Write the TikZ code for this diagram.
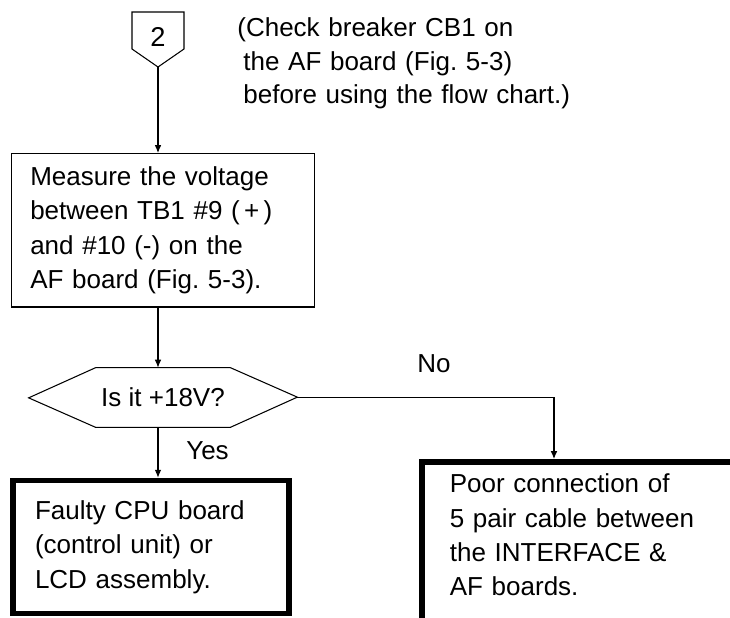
\documentclass[tikz,border=0pt]{standalone}
\usepackage{fontspec}
\setmainfont{Liberation Sans}
\usetikzlibrary{arrows.meta}
\frenchspacing

\begin{document}
\begin{tikzpicture}[
    line/.style={line width=0.6pt},
    arr/.style={line width=0.6pt, -{Latex[length=4.5pt,width=3.8pt]}},
    txt/.style={font=\fontsize{14.8}{19.6}\selectfont, inner sep=0pt},
    box/.style={draw, line width=0.6pt, align=left, font=\fontsize{14.8}{19.6}\selectfont},
    endbox/.style={box, line width=3.2pt}
]
            \useasboundingbox (0,0) rectangle (14.6,12.34);
            % Ô đầu nối số 2
            \coordinate (P1) at (2.64,11.36);
            \coordinate (P2) at (2.64,12.1);
            \coordinate (P3) at (3.68,12.1);
            \coordinate (P4) at (3.68,11.36);
            \coordinate (T) at (3.16,11.0);
            \draw[line] (P1) -- (P2) -- (P3) -- (P4) -- (T) -- cycle;
            \node[txt, font=\fontsize{15.5}{19.6}\selectfont] (two) at (3.16,11.6) {2};
            % Ghi chú
            \node[txt, anchor=west, text width=7cm, align=left, font=\fontsize{14.8}{19}\selectfont] (memo) at (4.74,11.07)
                {(Check breaker CB1 on\\ \hspace*{0.12cm}the AF board (Fig. 5-3)\\ \hspace*{0.12cm}before using the flow chart.)};
            % Hộp đo điện áp
            \node[box, minimum width=6.05cm, minimum height=3.07cm, inner xsep=0.37cm, text width=5.31cm] (M) at (3.26,7.735)
                {Measure the voltage\\ between TB1 \#9 (\,+\,)\\ and \#10 (-) on the\\ AF board (Fig. 5-3).};
            % Hộp quyết định
            \node[txt, minimum width=2.68cm, minimum height=1.18cm] (Q) at (3.26,4.39) {Is it +18V?};
            \draw[line] (Q.north west) -- (Q.north east) -- ++(1.34,-0.59) coordinate (QR)
                -- (Q.south east) -- (Q.south west) -- ++(-1.34,0.59) -- cycle;
            % Hai kết luận
            \node[endbox, minimum width=5.52cm, minimum height=2.66cm, inner xsep=0.44cm, text width=4.64cm] (F) at (3.02,1.4)
                {Faulty CPU board\\ (control unit) or\\ LCD assembly.};
            \node[endbox, anchor=north west, inner xsep=0.56cm, inner ysep=0.24cm, text width=6cm, text depth=2.5cm] (C) at (8.38,3.16)
                {Poor connection of\\ 5 pair cable between\\ the INTERFACE \&\\ AF boards.};
            % Nhãn
            \node[txt] (no) at (8.68,5.06) {No};
            \node[txt] (yes) at (4.15,3.32) {Yes};
            % Mũi tên
            \draw[arr] (T) -- (T |- M.north);
            \draw[arr] (T |- M.south) -- (T |- Q.north);
            \draw[arr] (T |- Q.south) -- (T |- F.north);
            \draw[arr] (QR) -| ([xshift=2.7cm]C.north west);
\end{tikzpicture}
\end{document}
